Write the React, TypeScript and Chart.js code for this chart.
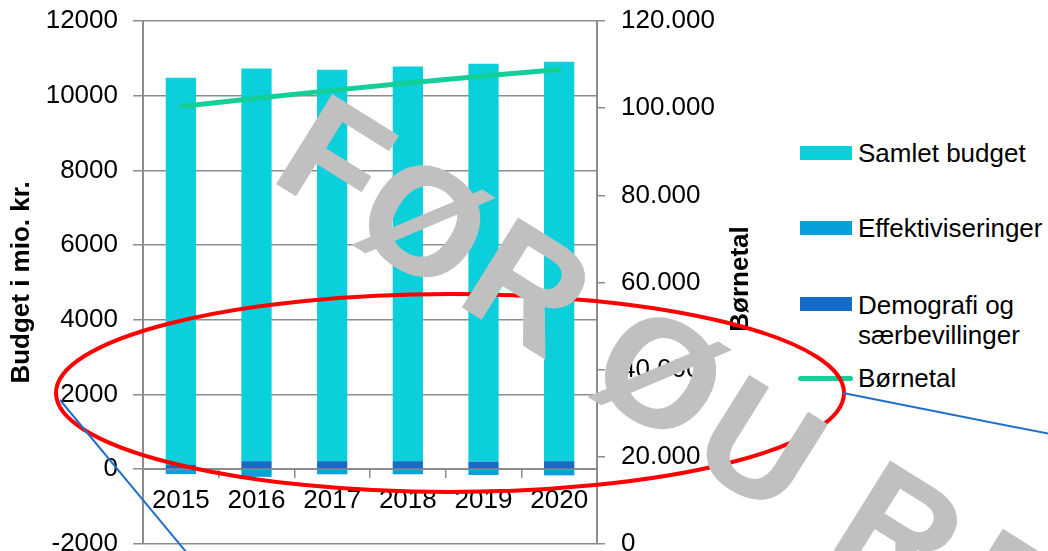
import React, { useEffect, useRef } from 'react';
import { Chart, registerables } from 'chart.js';

Chart.register(...registerables);

const FONT = '"Liberation Sans", Arial, Helvetica, sans-serif';

// ---- data ----
const years = ['2015', '2016', '2017', '2018', '2019', '2020'];
const samletBudget = [10365, 10515, 10480, 10570, 10650, 10695];
const effektiviseringer = [-130, -205, -135, -135, -155, -165];
const demografi = [115, 215, 215, 215, 205, 215];
const boernetal = [100400, 102300, 104100, 105800, 107400, 108900];

const leftMin = -2000;
const leftMax = 12000;
const leftStep = 2000;
const rightMin = 0;
const rightMax = 120000;
const rightStep = 20000;

const legendTexts = ['Samlet budget', 'Effektiviseringer', 'Demografi og\nsærbevillinger', 'Børnetal'];
const leftTitle = 'Budget i mio. kr.';
const rightTitle = 'Børnetal';
const watermark = ['F', 'Ø', 'R', 'Ø', 'U', 'R', 'E'];

// ---- styles ----
const C_SAMLET = '#0bcfda';
const C_EFFEKT = '#08a0da';
const C_DEMO = '#146cc6';
const C_LINE = '#13ce97';
const C_GRID = '#8c8c8c';

const CANVAS_TOP = -4;
const CANVAS_H = 573;

const wmPos: [number, number][] = [
  [336, 158], [425, 221], [529, 286], [661, 373], [761, 444], [901, 529], [1010, 595],
];

const fmtDa = (v: number) => String(v).replace(/\B(?=(\d{3})+(?!\d))/g, '.');

export default function App() {
  const ref = useRef<HTMLCanvasElement>(null);

  useEffect(() => {
    const chart = new Chart(ref.current as HTMLCanvasElement, {
      type: 'bar',
      data: {
        labels: years,
        datasets: [
          { label: legendTexts[2], data: demografi, backgroundColor: C_DEMO, yAxisID: 'y', barPercentage: 0.4, categoryPercentage: 1, borderWidth: 0 },
          { label: legendTexts[1], data: effektiviseringer, backgroundColor: C_EFFEKT, yAxisID: 'y', barPercentage: 0.4, categoryPercentage: 1, borderWidth: 0 },
          { label: legendTexts[0], data: samletBudget, backgroundColor: C_SAMLET, yAxisID: 'y', barPercentage: 0.4, categoryPercentage: 1, borderWidth: 0 },
          {
            type: 'line', label: legendTexts[3], data: boernetal, yAxisID: 'y1', borderColor: C_LINE,
            backgroundColor: C_LINE, borderWidth: 5, pointRadius: 0, borderCapStyle: 'round', tension: 0, fill: false, order: -1,
          } as any,
        ],
      },
      options: {
        responsive: false,
        animation: false,
        devicePixelRatio: 1,
        layout: { padding: { top: 20, bottom: 10, left: 0, right: 0 } },
        plugins: { legend: { display: false }, tooltip: { enabled: false } },
        scales: {
          x: {
            type: 'category',
            position: { y: 0 } as any,
            stacked: true,
            offset: true,
            grid: { display: true, drawOnChartArea: false, offset: true, tickLength: 8, color: C_GRID, lineWidth: 1.5 },
            border: { display: true, color: C_GRID, width: 2 },
            ticks: { color: '#000', font: { family: FONT, size: 26 }, padding: 8, maxRotation: 0, autoSkip: false },
          },
          y: {
            position: 'left',
            stacked: true,
            min: leftMin,
            max: leftMax,
            afterFit: (s: any) => { s.width = 143; },
            grid: { color: C_GRID, lineWidth: 1.5, tickLength: 10 },
            border: { display: true, color: C_GRID, width: 2 },
            ticks: { stepSize: leftStep, color: '#000', font: { family: FONT, size: 26, lineHeight: 0.7 }, padding: 15, callback: (v: any) => String(v) },
            title: { display: true, text: leftTitle, color: '#000', font: { family: FONT, size: 26, weight: 'bold' }, padding: { top: 6, bottom: 0 } },
          },
          y1: {
            position: 'right',
            min: rightMin,
            max: rightMax,
            afterFit: (s: any) => { s.width = 163; },
            grid: { drawOnChartArea: false, color: C_GRID, lineWidth: 1.5, tickLength: 8 },
            border: { display: true, color: C_GRID, width: 2 },
            ticks: { stepSize: rightStep, color: '#000', font: { family: FONT, size: 26, lineHeight: 0.7 }, padding: 16, callback: (v: any) => fmtDa(Number(v)) },
          },
        } as any,
      },
    });
    return () => chart.destroy();
  }, []);

  const textStyle: React.CSSProperties = { position: 'absolute', fontFamily: FONT, fontSize: 26, color: '#000', lineHeight: '30px', whiteSpace: 'pre' };
  const sw = (top: number, color: string): React.CSSProperties => ({ position: 'absolute', left: 800, top, width: 52, height: 14, background: color });

  return (
    <div style={{ position: 'fixed', left: 0, top: 0, width: 1048, height: 551, background: '#fff', overflow: 'hidden' }}>
      <canvas ref={ref} width={760} height={CANVAS_H} style={{ position: 'absolute', left: 0, top: CANVAS_TOP, width: 760, height: CANVAS_H }} />
      <div style={sw(146, C_SAMLET)} />
      <div style={{ ...textStyle, left: 858, top: 138 }}>{legendTexts[0]}</div>
      <div style={sw(221, C_EFFEKT)} />
      <div style={{ ...textStyle, left: 858, top: 213 }}>{legendTexts[1]}</div>
      <div style={sw(297, C_DEMO)} />
      <div style={{ ...textStyle, left: 858, top: 290 }}>{legendTexts[2]}</div>
      <div style={{ position: 'absolute', left: 798, top: 375.5, width: 55, height: 5, borderRadius: 3, background: C_LINE }} />
      <div style={{ ...textStyle, left: 858, top: 363 }}>{legendTexts[3]}</div>
      <div style={{ position: 'absolute', left: 739, top: 279, transform: 'translate(-50%, -50%) rotate(-90deg)', fontFamily: FONT, fontSize: 26, fontWeight: 'bold', color: '#000', whiteSpace: 'nowrap', lineHeight: '30px' }}>{rightTitle}</div>
      <svg width={1048} height={551} style={{ position: 'absolute', left: 0, top: 0, pointerEvents: 'none' }}>
        <ellipse cx={450} cy={393} rx={394} ry={99} fill="none" stroke="#ff0000" strokeWidth={4} />
        <line x1={60} y1={400} x2={187} y2={553} stroke="#1f6fcc" strokeWidth={2} />
        <line x1={843} y1={393} x2={1050} y2={434} stroke="#1f6fcc" strokeWidth={2} />
        {watermark.map((ch, i) => (
          <text key={i} x={wmPos[i][0]} y={wmPos[i][1]} transform={`rotate(32 ${wmPos[i][0]} ${wmPos[i][1]})`}
            textAnchor="middle" dominantBaseline="central" fontFamily={FONT} fontWeight="bold" fontSize={152}
            fill="#c0c0c0" stroke="#c0c0c0" strokeWidth={1.5}>{ch}</text>
        ))}
      </svg>
    </div>
  );
}
